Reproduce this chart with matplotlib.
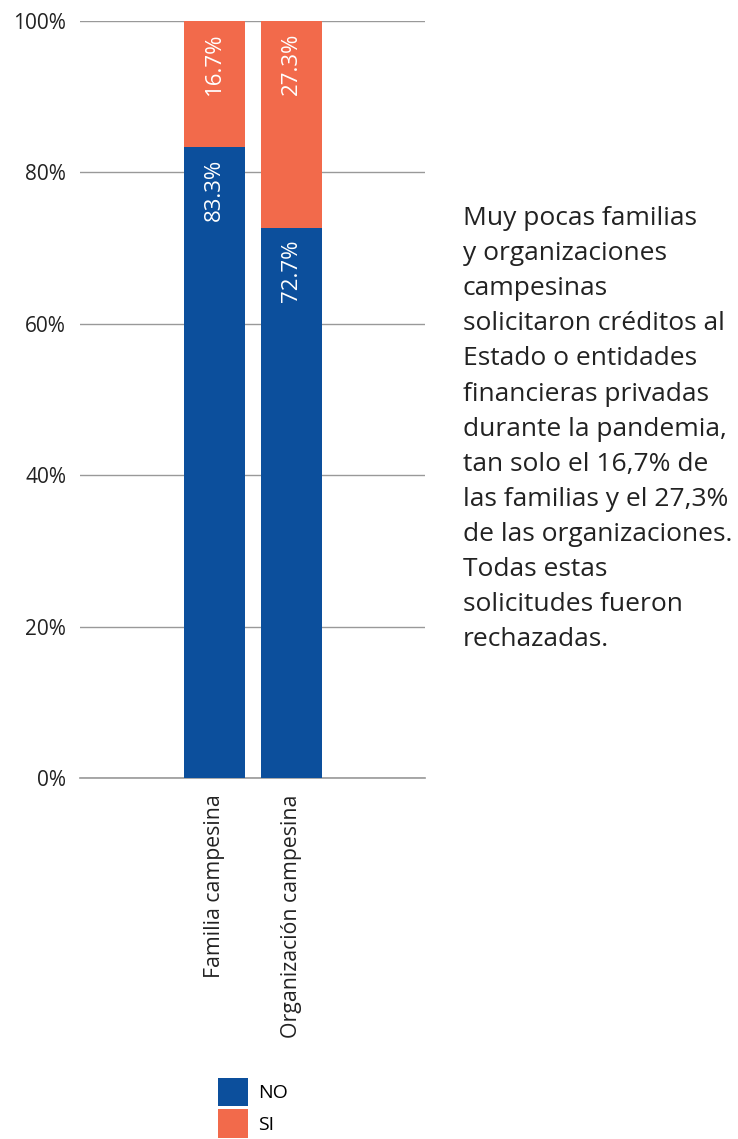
import matplotlib
matplotlib.use("Agg")
import matplotlib.pyplot as plt
from matplotlib.patches import Patch
from matplotlib.ticker import FuncFormatter

# Data
categories = ["Familia campesina", "Organización campesina"]
no_values = [83.3, 72.7]
si_values = [16.7, 27.3]
series_names = ["NO", "SI"]
y_ticks = [0, 20, 40, 60, 80, 100]
note = ("Muy pocas familias\ny organizaciones\ncampesinas\nsolicitaron créditos al\n"
        "Estado o entidades\nfinancieras privadas\ndurante la pandemia,\n"
        "tan solo el 16,7% de\nlas familias y el 27,3%\nde las organizaciones.\n"
        "Todas estas\nsolicitudes fueron\nrechazadas.")

BLUE = "#0c4f9c"
ORANGE = "#f26a4b"
GRID = "#999999"

plt.rcParams["font.family"] = ["Open Sans", "DejaVu Sans"]

fig = plt.figure(figsize=(7.38, 11.39), dpi=100)
ax = fig.add_axes([0.1084, 0.3169, 0.4675, 0.6646])

x = list(range(len(categories)))
width = 0.79
ax.bar(x, no_values, width, color=BLUE, zorder=2)
ax.bar(x, si_values, width, bottom=no_values, color=ORANGE, zorder=2)

# value labels at the top of each segment, rotated
for xi, n, s in zip(x, no_values, si_values):
    ax.text(xi, n - 1.5, f"{n:.1f}%", rotation=90, ha="center", va="top",
            color="white", fontsize=16)
    ax.text(xi, n + s - 1.5, f"{s:.1f}%", rotation=90, ha="center", va="top",
            color="white", fontsize=16)

ax.set_xlim(-1.747, 2.734)
ax.set_ylim(0, 100)
ax.set_yticks(y_ticks)
ax.yaxis.set_major_formatter(FuncFormatter(lambda v, p: f"{v:.0f}%"))
ax.grid(axis="y", color=GRID, linewidth=1, zorder=0)
ax.axhline(0, color=GRID, linewidth=1.2, zorder=1, clip_on=False)
ax.set_xticks(x)
ax.set_xticklabels(categories, rotation=90, color="#222222")
ax.tick_params(axis="both", length=0, colors="#222222")
ax.tick_params(axis="x", pad=12, labelsize=15.3)
ax.tick_params(axis="y", pad=10, labelsize=15)
for sp in ax.spines.values():
    sp.set_visible(False)

fig.text(0.627, 0.819, note, ha="left", va="top", fontsize=19,
         color="#222222", linespacing=1.53)

handles = [Patch(facecolor=BLUE, label=series_names[0]),
           Patch(facecolor=ORANGE, label=series_names[1])]
fig.legend(handles=handles, loc="lower left", bbox_to_anchor=(0.285, -0.006),
           frameon=False, fontsize=14, handlelength=1.55, handleheight=1.9,
           handletextpad=0.5, labelspacing=0.15, borderaxespad=0)

fig.savefig("out.png", dpi=100)
